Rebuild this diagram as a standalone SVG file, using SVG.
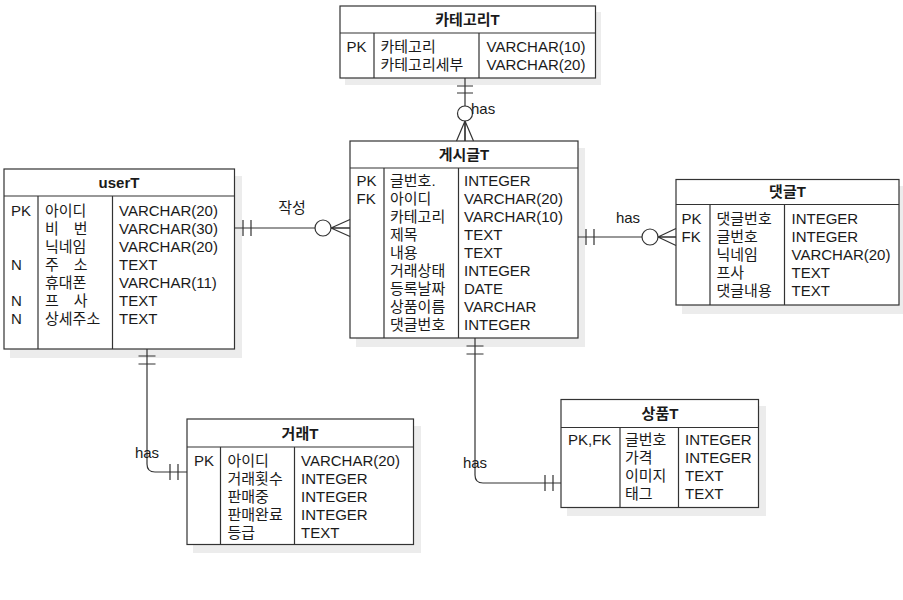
<svg xmlns="http://www.w3.org/2000/svg" width="903" height="600" viewBox="0 0 903 600">
<style>
.bg{fill:#ffffff}
.sh{fill:#ececec}
.box{fill:#ffffff;stroke:#333333;stroke-width:1.2}
.ln{fill:none;stroke:#333333;stroke-width:1.2}
.cl{fill:#ffffff;stroke:#333333;stroke-width:1.2}
text{font-family:"Liberation Sans","Noto Sans CJK KR",sans-serif;font-size:15px;fill:#1a1a1a}
.h{font-weight:bold;text-anchor:middle}
.lb{text-anchor:middle}
</style>
<rect class="bg" x="0" y="0" width="903" height="600"/>

<g id="categoryT">
  <rect class="sh" x="345" y="12" width="256" height="73"/>
  <rect class="box" x="340" y="6" width="255.5" height="72"/>
  <path class="ln" d="M340,33 H595.5 M374,33 V78 M479,33 V78"/>
  <text class="h" x="467.5" y="24.5">카테고리T</text>
  <text x="346.5" y="51.5">PK</text>
  <text x="380.5" y="51.5">카테고리</text>
  <text x="380.5" y="69.5">카테고리세부</text>
  <text x="486.5" y="51.5">VARCHAR(10)</text>
  <text x="486.5" y="69.5">VARCHAR(20)</text>
</g>

<g id="userT">
  <rect class="sh" x="10" y="176" width="232" height="182"/>
  <rect class="box" x="4" y="169" width="230.5" height="180"/>
  <path class="ln" d="M4,196 H234.5 M38,196 V349 M112.5,196 V349"/>
  <text class="h" x="119" y="187.5">userT</text>
  <text x="11" y="215.5">PK</text>
  <text x="11" y="269.5">N</text>
  <text x="11" y="305.5">N</text>
  <text x="11" y="323.5">N</text>
  <text x="45" y="215.5">아이디</text>
  <text x="45" y="233.5" xml:space="preserve">비　번</text>
  <text x="45" y="251.5">닉네임</text>
  <text x="45" y="269.5" xml:space="preserve">주　소</text>
  <text x="45" y="287.5">휴대폰</text>
  <text x="45" y="305.5" xml:space="preserve">프　사</text>
  <text x="45" y="323.5">상세주소</text>
  <text x="119" y="215.5">VARCHAR(20)</text>
  <text x="119" y="233.5">VARCHAR(30)</text>
  <text x="119" y="251.5">VARCHAR(20)</text>
  <text x="119" y="269.5">TEXT</text>
  <text x="119" y="287.5">VARCHAR(11)</text>
  <text x="119" y="305.5">TEXT</text>
  <text x="119" y="323.5">TEXT</text>
</g>

<g id="postT">
  <rect class="sh" x="356" y="148" width="229" height="199"/>
  <rect class="box" x="350" y="141" width="228" height="197"/>
  <path class="ln" d="M350,168 H578 M384,168 V338 M458.5,168 V338"/>
  <text class="h" x="464" y="159.5">게시글T</text>
  <text x="356.5" y="185.5">PK</text>
  <text x="356.5" y="203.5">FK</text>
  <text x="390" y="185.5">글번호.</text>
  <text x="390" y="203.5">아이디</text>
  <text x="390" y="221.5">카테고리</text>
  <text x="390" y="239.5">제목</text>
  <text x="390" y="257.5">내용</text>
  <text x="390" y="275.5">거래상태</text>
  <text x="390" y="293.5">등록날짜</text>
  <text x="390" y="311.5">상품이름</text>
  <text x="390" y="329.5">댓글번호</text>
  <text x="464" y="185.5">INTEGER</text>
  <text x="464" y="203.5">VARCHAR(20)</text>
  <text x="464" y="221.5">VARCHAR(10)</text>
  <text x="464" y="239.5">TEXT</text>
  <text x="464" y="257.5">TEXT</text>
  <text x="464" y="275.5">INTEGER</text>
  <text x="464" y="293.5">DATE</text>
  <text x="464" y="311.5">VARCHAR</text>
  <text x="464" y="329.5">INTEGER</text>
</g>

<g id="commentT">
  <rect class="sh" x="682" y="186" width="221" height="128"/>
  <rect class="box" x="676" y="179.5" width="223" height="125.5"/>
  <path class="ln" d="M676,204.5 H899 M710,204.5 V305 M784.5,204.5 V305"/>
  <text class="h" x="787.5" y="197">댓글T</text>
  <text x="681.5" y="223.5">PK</text>
  <text x="681.5" y="241.5">FK</text>
  <text x="716.5" y="223.5">댓글번호</text>
  <text x="716.5" y="241.5">글번호</text>
  <text x="716.5" y="259.5">닉네임</text>
  <text x="716.5" y="277.5">프사</text>
  <text x="716.5" y="295.5">댓글내용</text>
  <text x="791.5" y="223.5">INTEGER</text>
  <text x="791.5" y="241.5">INTEGER</text>
  <text x="791.5" y="259.5">VARCHAR(20)</text>
  <text x="791.5" y="277.5">TEXT</text>
  <text x="791.5" y="295.5">TEXT</text>
</g>

<g id="tradeT">
  <rect class="sh" x="193" y="426" width="228" height="127"/>
  <rect class="box" x="187" y="419" width="226.5" height="125.5"/>
  <path class="ln" d="M187,447 H413.5 M220.5,447 V544.5 M294.5,447 V544.5"/>
  <text class="h" x="300" y="438.5">거래T</text>
  <text x="194" y="465.5">PK</text>
  <text x="227.5" y="465.5">아이디</text>
  <text x="227.5" y="483.5">거래횟수</text>
  <text x="227.5" y="501.5">판매중</text>
  <text x="227.5" y="519.5">판매완료</text>
  <text x="227.5" y="537.5">등급</text>
  <text x="301" y="465.5">VARCHAR(20)</text>
  <text x="301" y="483.5">INTEGER</text>
  <text x="301" y="501.5">INTEGER</text>
  <text x="301" y="519.5">INTEGER</text>
  <text x="301" y="537.5">TEXT</text>
</g>

<g id="productT">
  <rect class="sh" x="567" y="406" width="199" height="110"/>
  <rect class="box" x="561" y="399.5" width="197.5" height="108"/>
  <path class="ln" d="M561,427.5 H758.5 M620,427.5 V507.5 M678.5,427.5 V507.5"/>
  <text class="h" x="660" y="418.5">상품T</text>
  <text x="568" y="444.5">PK,FK</text>
  <text x="625" y="444.5">글번호</text>
  <text x="625" y="462.5">가격</text>
  <text x="625" y="480.5">이미지</text>
  <text x="625" y="498.5">태그</text>
  <text x="685" y="444.5">INTEGER</text>
  <text x="685" y="462.5">INTEGER</text>
  <text x="685" y="480.5">TEXT</text>
  <text x="685" y="498.5">TEXT</text>
</g>

<g id="connectors">
  <!-- 카테고리T - 게시글T -->
  <path class="ln" d="M465,78 V141"/>
  <path class="ln" d="M457,86 H473 M457,93 H473"/>
  <circle class="cl" cx="465" cy="113.5" r="7.5"/>
  <path class="ln" d="M465,121 L456.5,141 M465,121 V141 M465,121 L473.5,141"/>
  <text x="471" y="114">has</text>

  <!-- userT - 게시글T -->
  <path class="ln" d="M234,228 H350"/>
  <path class="ln" d="M243,220 V236 M251,220 V236"/>
  <circle class="cl" cx="323" cy="228" r="8"/>
  <path class="ln" d="M331,228 L350,219.5 M331,228 H350 M331,228 L350,236.5"/>
  <text class="lb" x="292" y="213">작성</text>

  <!-- 게시글T - 댓글T -->
  <path class="ln" d="M578,237 H676"/>
  <path class="ln" d="M586,229 V245 M594,229 V245"/>
  <circle class="cl" cx="650" cy="237" r="8"/>
  <path class="ln" d="M658,237 L676,228.5 M658,237 H676 M658,237 L676,245.5"/>
  <text class="lb" x="628" y="222.5">has</text>

  <!-- userT - 거래T -->
  <path class="ln" d="M147,349 V464 Q147,472 155,472 H187"/>
  <path class="ln" d="M138.5,356 H155.5 M138.5,364 H155.5"/>
  <path class="ln" d="M170,464 V480 M178,464 V480"/>
  <text class="lb" x="147" y="458">has</text>

  <!-- 게시글T - 상품T -->
  <path class="ln" d="M475,338 V475 Q475,483 483,483 H561"/>
  <path class="ln" d="M466.5,346 H483.5 M466.5,354 H483.5"/>
  <path class="ln" d="M545,475 V491 M553,475 V491"/>
  <text class="lb" x="475" y="468">has</text>
</g>
</svg>
